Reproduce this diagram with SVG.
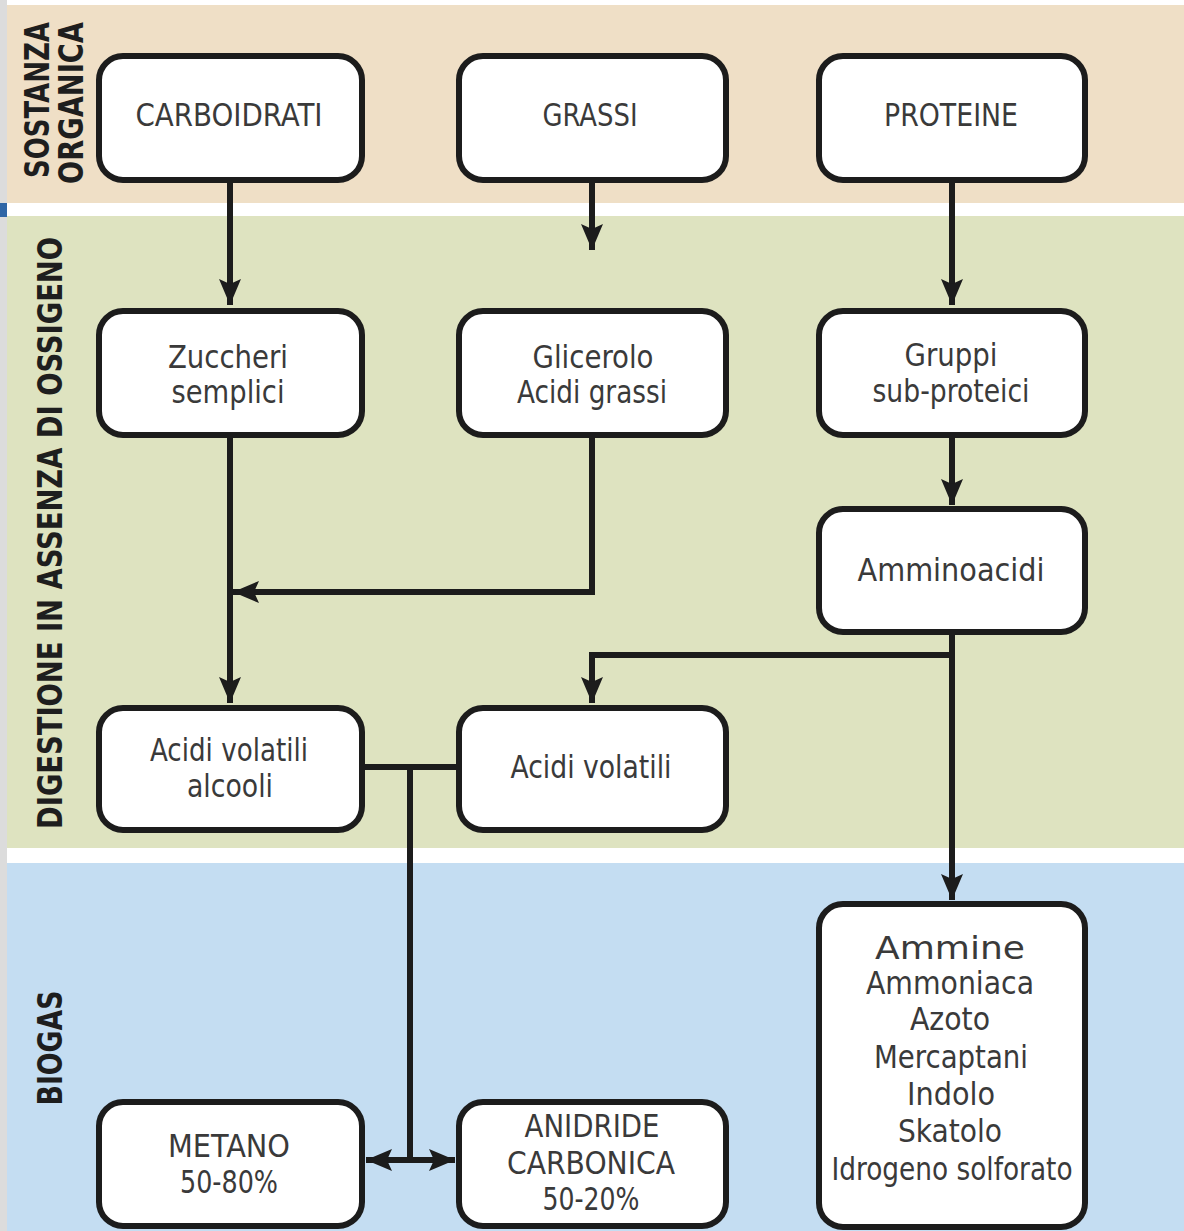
<svg xmlns="http://www.w3.org/2000/svg" width="1184" height="1231" viewBox="0 0 1184 1231">
<defs>
<style>
.box{fill:#ffffff;stroke:#1c1c1c;stroke-width:6}
.ln{fill:none;stroke:#1c1c1c;stroke-width:6;stroke-linejoin:miter}
.t{font-family:"Liberation Sans Narrow","DejaVu Sans Condensed","Liberation Sans",sans-serif;font-size:32px;fill:#3a3a3a;text-anchor:middle}
.side{font-family:"Liberation Sans Narrow","DejaVu Sans Condensed","Liberation Sans",sans-serif;font-size:34px;font-weight:bold;fill:#1e1e1e;text-anchor:middle}
</style>
<marker id="ah" markerUnits="userSpaceOnUse" markerWidth="28" markerHeight="22" refX="26" refY="11" orient="auto">
<path d="M0,0 L26,11 L0,22 L5,11 z" fill="#1c1c1c"/>
</marker>
</defs>
<rect x="0" y="0" width="1184" height="1231" fill="#ffffff"/>
<rect x="0" y="0" width="7" height="1231" fill="#dcdcdc"/>
<rect x="7" y="5" width="1177" height="198" fill="#efdfc6"/>
<rect x="7" y="216" width="1177" height="632" fill="#dee3c0"/>
<rect x="7" y="863" width="1177" height="368" fill="#c4ddf2"/>
<rect x="0" y="203" width="7" height="14" fill="#2f66a6"/>

<g id="side-labels">
<text class="side" transform="translate(49,100) rotate(-90)" textLength="156" lengthAdjust="spacingAndGlyphs">SOSTANZA</text>
<text class="side" transform="translate(83,103) rotate(-90)" textLength="162" lengthAdjust="spacingAndGlyphs">ORGANICA</text>
<text class="side" transform="translate(62,533) rotate(-90)" textLength="592" lengthAdjust="spacingAndGlyphs">DIGESTIONE IN ASSENZA DI OSSIGENO</text>
<text class="side" transform="translate(62,1048) rotate(-90)" textLength="115" lengthAdjust="spacingAndGlyphs">BIOGAS</text>
</g>

<g id="connectors">
<path class="ln" d="M230,180 V305" marker-end="url(#ah)"/>
<path class="ln" d="M592,180 V250" marker-end="url(#ah)"/>
<path class="ln" d="M952,180 V305" marker-end="url(#ah)"/>
<path class="ln" d="M952,435 V505" marker-end="url(#ah)"/>
<path class="ln" d="M230,435 V703" marker-end="url(#ah)"/>
<path class="ln" d="M592,435 V592 H233" marker-end="url(#ah)"/>
<path class="ln" d="M952,632 V900" marker-end="url(#ah)"/>
<path class="ln" d="M952,655 H592 V703" marker-end="url(#ah)"/>
<path class="ln" d="M362,767 H458"/>
<path class="ln" d="M410,767 V1160"/>
<path class="ln" d="M410,1160 H366" marker-end="url(#ah)"/>
<path class="ln" d="M410,1160 H455" marker-end="url(#ah)"/>
</g>

<g id="carboidrati">
<rect class="box" x="99" y="56" width="263" height="124" rx="24"/>
<text class="t" x="229" y="126" textLength="187" lengthAdjust="spacingAndGlyphs">CARBOIDRATI</text>
</g>
<g id="grassi">
<rect class="box" x="459" y="56" width="267" height="124" rx="24"/>
<text class="t" x="590" y="126" textLength="95" lengthAdjust="spacingAndGlyphs">GRASSI</text>
</g>
<g id="proteine">
<rect class="box" x="819" y="56" width="266" height="124" rx="24"/>
<text class="t" x="951" y="126" textLength="134" lengthAdjust="spacingAndGlyphs">PROTEINE</text>
</g>

<g id="zuccheri">
<rect class="box" x="99" y="311" width="263" height="124" rx="24"/>
<text class="t" x="228" y="368" textLength="120" lengthAdjust="spacingAndGlyphs">Zuccheri</text>
<text class="t" x="228" y="403" textLength="113" lengthAdjust="spacingAndGlyphs">semplici</text>
</g>
<g id="glicerolo">
<rect class="box" x="459" y="311" width="267" height="124" rx="24"/>
<text class="t" x="593" y="368" textLength="121" lengthAdjust="spacingAndGlyphs">Glicerolo</text>
<text class="t" x="592" y="403" textLength="150" lengthAdjust="spacingAndGlyphs">Acidi grassi</text>
</g>
<g id="gruppi">
<rect class="box" x="819" y="311" width="266" height="124" rx="24"/>
<text class="t" x="951" y="366" textLength="93" lengthAdjust="spacingAndGlyphs">Gruppi</text>
<text class="t" x="951" y="402" textLength="157" lengthAdjust="spacingAndGlyphs">sub-proteici</text>
</g>
<g id="amminoacidi">
<rect class="box" x="819" y="509" width="266" height="123" rx="24"/>
<text class="t" x="951" y="581" textLength="187" lengthAdjust="spacingAndGlyphs">Amminoacidi</text>
</g>

<g id="acidi-volatili-alcooli">
<rect class="box" x="99" y="708" width="263" height="122" rx="24"/>
<text class="t" x="229" y="761" textLength="158" lengthAdjust="spacingAndGlyphs">Acidi volatili</text>
<text class="t" x="230" y="797" textLength="86" lengthAdjust="spacingAndGlyphs">alcooli</text>
</g>
<g id="acidi-volatili">
<rect class="box" x="459" y="708" width="267" height="122" rx="24"/>
<text class="t" x="591" y="778" textLength="161" lengthAdjust="spacingAndGlyphs">Acidi volatili</text>
</g>

<g id="ammine">
<rect class="box" x="819" y="904" width="266" height="323" rx="24"/>
<text class="t" x="950" y="959" font-size="34" textLength="150" lengthAdjust="spacingAndGlyphs">Ammine</text>
<text class="t" x="950" y="994" textLength="168" lengthAdjust="spacingAndGlyphs">Ammoniaca</text>
<text class="t" x="950" y="1030" textLength="80" lengthAdjust="spacingAndGlyphs">Azoto</text>
<text class="t" x="951" y="1068" textLength="154" lengthAdjust="spacingAndGlyphs">Mercaptani</text>
<text class="t" x="951" y="1105" textLength="88" lengthAdjust="spacingAndGlyphs">Indolo</text>
<text class="t" x="950" y="1142" textLength="104" lengthAdjust="spacingAndGlyphs">Skatolo</text>
<text class="t" x="952" y="1180" textLength="241" lengthAdjust="spacingAndGlyphs">Idrogeno solforato</text>
</g>

<g id="metano">
<rect class="box" x="99" y="1102" width="263" height="124" rx="24"/>
<text class="t" x="229" y="1157" textLength="122" lengthAdjust="spacingAndGlyphs">METANO</text>
<text class="t" x="229" y="1193" textLength="98" lengthAdjust="spacingAndGlyphs">50-80%</text>
</g>
<g id="anidride">
<rect class="box" x="459" y="1102" width="267" height="124" rx="24"/>
<text class="t" x="592" y="1137" textLength="135" lengthAdjust="spacingAndGlyphs">ANIDRIDE</text>
<text class="t" x="591" y="1174" textLength="168" lengthAdjust="spacingAndGlyphs">CARBONICA</text>
<text class="t" x="591" y="1210" textLength="97" lengthAdjust="spacingAndGlyphs">50-20%</text>
</g>
</svg>
